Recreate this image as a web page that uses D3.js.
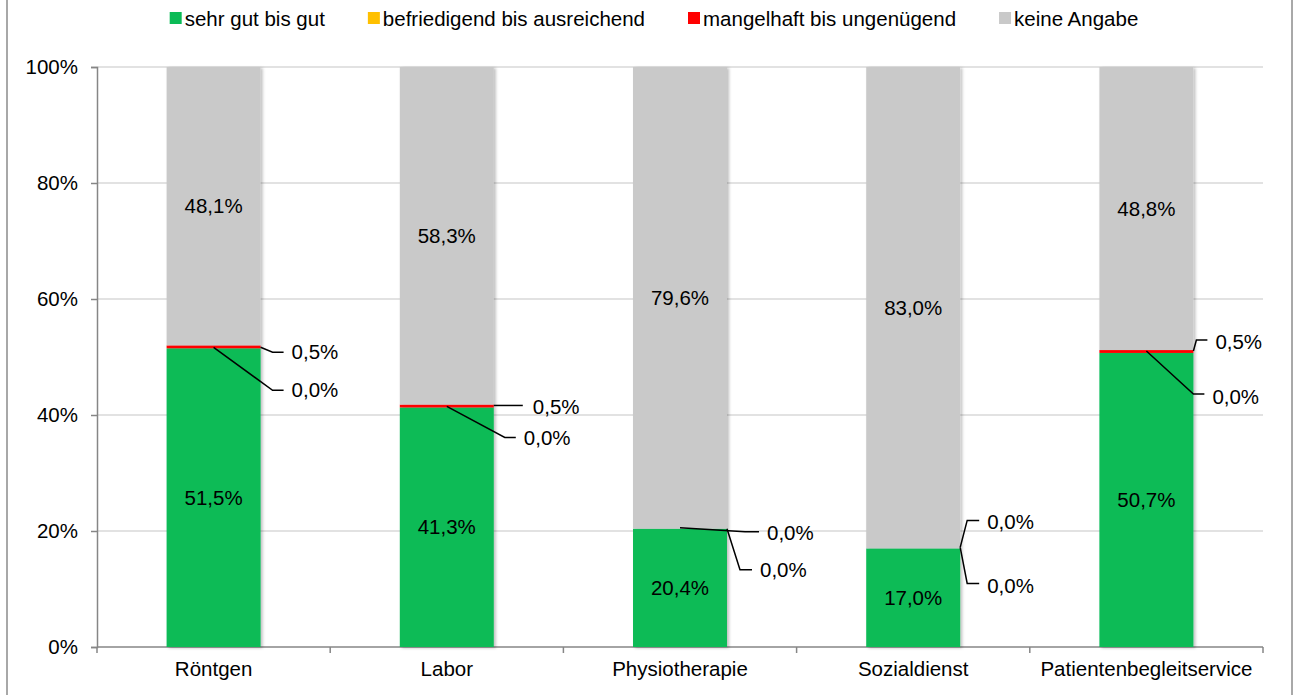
<!DOCTYPE html>
<html>
<head>
<meta charset="UTF-8">
<title>Bewertung</title>
<style>
body { margin: 0; background: #fff; }
svg { display: block; font-family: "Liberation Sans", Arial, sans-serif; }
</style>
</head>
<body>
<svg id="chart" width="1293" height="695"></svg>

<script src="https://d3js.org/d3.v7.min.js"></script>
<script>
// data
const categories = ["Röntgen", "Labor", "Physiotherapie", "Sozialdienst", "Patientenbegleitservice"];
const seriesNames = ["sehr gut bis gut", "befriedigend bis ausreichend", "mangelhaft bis ungenügend", "keine Angabe"];
const seriesColors = ["#0bbb56", "#ffc000", "#ff0000", "#c9c9c9"];
const gut = [51.5, 41.3, 20.4, 17.0, 50.7];
const befriedigend = [0.0, 0.0, 0.0, 0.0, 0.0];
const mangelhaft = [0.5, 0.5, 0.0, 0.0, 0.5];
const keineAngabe = [48.1, 58.3, 79.6, 83.0, 48.8];
const yTicks = [0, 20, 40, 60, 80, 100];

// leader-line placement for the thin segments (offsets from bar edge / segment boundary)
const callouts = [
  { cat: 0, s: 2, from: "edge",   fy: -1, ex: 12, ey: 4,   tx: 31, ty: 4 },
  { cat: 0, s: 1, from: "center", fy: -1, ex: 12, ey: 42,  tx: 31, ty: 42 },
  { cat: 1, s: 2, from: "edge",   fy: -2, ex: 0,  ey: -2,  tx: 39, ty: -1, len: 29 },
  { cat: 1, s: 1, from: "center", fy: -1, ex: 11, ey: 30,  tx: 30, ty: 30 },
  { cat: 2, s: 2, from: "center", fy: -1, ex: 18, ey: 3,   tx: 40, ty: 4 },
  { cat: 2, s: 1, from: "edge",   fy: 0,  ex: 13, ey: 41,  tx: 33, ty: 41 },
  { cat: 3, s: 2, from: "edge",   fy: -1, ex: 7,  ey: -28, tx: 27, ty: -27 },
  { cat: 3, s: 1, from: "edge",   fy: -1, ex: 7,  ey: 35,  tx: 27, ty: 37 },
  { cat: 4, s: 2, from: "edge",   fy: -2, ex: 3,  ey: -13, tx: 22, ty: -11 },
  { cat: 4, s: 1, from: "center", fy: -2, ex: 0,  ey: 41,  tx: 19, ty: 44 }
];

const width = 1293, height = 695;
const margin = { top: 67, right: 30, bottom: 48, left: 97 };
const fontSize = 20.5;

const svg = d3.select("#chart");

const rows = categories.map((c, i) => ({
  cat: c, s0: gut[i], s1: befriedigend[i], s2: mangelhaft[i], s3: keineAngabe[i]
}));
const keys = ["s0", "s1", "s2", "s3"];
const stacked = d3.stack().keys(keys)(rows);

const x = d3.scaleBand()
  .domain(categories)
  .range([margin.left, width - margin.right])
  .paddingInner(0.597)
  .paddingOuter(0.2985);

const y = d3.scaleLinear()
  .domain([0, 100])
  .range([height - margin.bottom, margin.top])
  .clamp(true);

const fmt = v => d3.format(".1f")(v).replace(".", ",") + "%";

// outer frame
svg.append("rect")
  .attr("x", 7).attr("y", -5)
  .attr("width", 1285).attr("height", height + 10)
  .attr("fill", "none").attr("stroke", "#8c8c8c").attr("stroke-width", 1.5);

// shadow for bars
const defs = svg.append("defs");
defs.append("filter").attr("id", "shadow")
  .attr("x", "-10%").attr("y", "-5%").attr("width", "130%").attr("height", "115%")
  .append("feDropShadow")
  .attr("dx", 2).attr("dy", 1).attr("stdDeviation", 1.5)
  .attr("flood-color", "#000").attr("flood-opacity", 0.25);

// gridlines
svg.append("g")
  .selectAll("line")
  .data(yTicks.filter(t => t > 0))
  .join("line")
  .attr("x1", margin.left).attr("x2", width - margin.right)
  .attr("y1", d => y(d)).attr("y2", d => y(d))
  .attr("stroke", "#d9d9d9").attr("stroke-width", 1.5);

// y axis
const yAxis = svg.append("g")
  .attr("transform", `translate(${margin.left},0)`)
  .call(d3.axisLeft(y).tickValues(yTicks).tickSize(6).tickPadding(13).tickFormat(d => d + "%"));
yAxis.select(".domain").attr("stroke", "#868686").attr("stroke-width", 1.5);
yAxis.selectAll(".tick line").attr("stroke", "#868686").attr("stroke-width", 1.5);
yAxis.selectAll("text").attr("font-size", fontSize).attr("fill", "#000")
  .attr("font-family", "Liberation Sans, Arial, sans-serif");

// x axis line with ticks at band boundaries
const xBase = y(0);
svg.append("line")
  .attr("x1", margin.left).attr("x2", width - margin.right)
  .attr("y1", xBase).attr("y2", xBase)
  .attr("stroke", "#868686").attr("stroke-width", 1.5);
const bounds = [margin.left].concat(categories.map(c => x(c) + x.bandwidth() + x.step() * x.paddingInner() / 2));
bounds[bounds.length - 1] = width - margin.right;
svg.append("g").selectAll("line")
  .data(bounds)
  .join("line")
  .attr("x1", d => d).attr("x2", d => d)
  .attr("y1", xBase).attr("y2", xBase + 6)
  .attr("stroke", "#868686").attr("stroke-width", 1.5);
svg.append("g").selectAll("text")
  .data(categories)
  .join("text")
  .attr("x", d => x(d) + x.bandwidth() / 2)
  .attr("y", 676)
  .attr("text-anchor", "middle")
  .attr("font-size", fontSize)
  .text(d => d);

// bars
const barG = svg.append("g").attr("filter", "url(#shadow)");
barG.selectAll("g")
  .data(stacked)
  .join("g")
  .attr("fill", (d, i) => seriesColors[i])
  .selectAll("rect")
  .data(d => d)
  .join("rect")
  .attr("x", d => x(d.data.cat))
  .attr("width", x.bandwidth())
  .attr("y", d => y(d[1]))
  .attr("height", d => Math.max(0, y(d[0]) - y(d[1])));

// labels inside bars (green and grey)
[0, 3].forEach(si => {
  svg.append("g").selectAll("text")
    .data(stacked[si])
    .join("text")
    .attr("x", d => x(d.data.cat) + x.bandwidth() / 2)
    .attr("y", d => (y(d[0]) + y(d[1])) / 2)
    .attr("dy", "0.35em")
    .attr("text-anchor", "middle")
    .attr("font-size", fontSize)
    .text(d => fmt(d.data[keys[si]]));
});

// callouts for the thin segments
const cg = svg.append("g");
callouts.forEach(c => {
  const d = stacked[c.s][c.cat];
  const xl = x(d.data.cat), xr = xl + x.bandwidth();
  const yb = y(d[0]);
  const sx = c.from === "edge" ? xr : xl + x.bandwidth() / 2;
  const sy = yb + c.fy;
  const ex = xr + c.ex, ey = yb + c.ey;
  const endX = c.len ? ex + c.len : xr + c.tx - 8;
  cg.append("path")
    .attr("d", d3.line()([[sx, sy], [ex, ey], [endX, ey]]))
    .attr("fill", "none").attr("stroke", "#000").attr("stroke-width", 1.5);
  cg.append("text")
    .attr("x", xr + c.tx)
    .attr("y", yb + c.ty)
    .attr("dy", "0.35em")
    .attr("font-size", fontSize)
    .text(fmt(d.data[keys[c.s]]));
});

// legend
const legend = svg.append("g");
const items = legend.selectAll("g")
  .data(seriesNames)
  .join("g");
items.append("rect")
  .attr("width", 12).attr("height", 12)
  .attr("y", 12)
  .attr("fill", (d, i) => seriesColors[i]);
items.append("text")
  .attr("x", 15).attr("y", 26)
  .attr("font-size", fontSize)
  .text(d => d);
let widths = [];
items.each(function () { widths.push(15 + this.querySelector("text").getComputedTextLength()); });
const gap = 43;
const total = d3.sum(widths) + gap * (widths.length - 1);
let pos = 654 - total / 2;
items.attr("transform", (d, i) => {
  const t = `translate(${pos},0)`;
  pos += widths[i] + gap;
  return t;
});
</script>
</body>
</html>
